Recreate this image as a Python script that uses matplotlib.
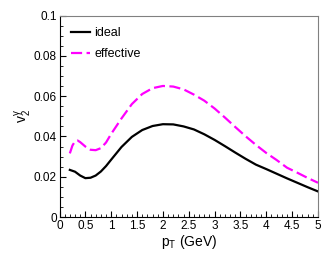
import matplotlib.pyplot as plt
from matplotlib.ticker import MultipleLocator

plt.rcParams['font.family'] = ['Liberation Sans', 'DejaVu Sans']

pt_ideal = [0.2, 0.3, 0.4, 0.5, 0.6, 0.7, 0.8, 0.9, 1.0, 1.2, 1.4, 1.6, 1.8, 2.0,
            2.2, 2.4, 2.6, 2.8, 3.0, 3.2, 3.4, 3.6, 3.8, 4.0, 4.2, 4.4, 4.6, 4.8, 5.0]
v2_ideal = [0.0234, 0.0225, 0.0206, 0.0193, 0.0195, 0.0206, 0.0226, 0.0253, 0.0285,
            0.0348, 0.0398, 0.0432, 0.0452, 0.0461, 0.0460, 0.0450, 0.0435, 0.0411,
            0.0383, 0.0352, 0.0320, 0.0289, 0.0260, 0.0238, 0.0215, 0.0192, 0.0170,
            0.0148, 0.0127]

pt_eff = [0.2, 0.25, 0.3, 0.35, 0.4, 0.5, 0.6, 0.7, 0.8, 0.9, 1.0, 1.2, 1.4, 1.6, 1.8,
          2.0, 2.2, 2.4, 2.6, 2.8, 3.0, 3.2, 3.4, 3.6, 3.8, 4.0, 4.2, 4.4, 4.6, 4.8, 5.0]
v2_eff = [0.0316, 0.0355, 0.0376, 0.0380, 0.0372, 0.0350, 0.0334, 0.0332, 0.0342,
          0.0370, 0.0413, 0.0490, 0.0561, 0.0611, 0.0640, 0.0651, 0.0648, 0.0634,
          0.0608, 0.0578, 0.0539, 0.0494, 0.0447, 0.0401, 0.0358, 0.0318, 0.0283,
          0.0245, 0.0220, 0.0194, 0.0170]

xticks = [0, 0.5, 1, 1.5, 2, 2.5, 3, 3.5, 4, 4.5, 5]
xtick_labels = ['0', '0.5', '1', '1.5', '2', '2.5', '3', '3.5', '4', '4.5', '5']
yticks = [0, 0.02, 0.04, 0.06, 0.08, 0.1]
ytick_labels = ['0', '0.02', '0.04', '0.06', '0.08', '0.1']

fig = plt.figure(figsize=(3.32, 2.59), dpi=100)
ax = fig.add_axes([59.5/332, 1 - 217/259, (318 - 59.5)/332, (217 - 15.7)/259])

ax.plot(pt_ideal, v2_ideal, color='black', lw=1.6, label='ideal')
ax.plot(pt_eff, v2_eff, color='magenta', lw=1.6, dashes=(5, 2), label='effective')

ax.set_xlim(0, 5)
ax.set_ylim(0, 0.1)
ax.set_xticks(xticks)
ax.set_xticklabels(xtick_labels)
ax.set_yticks(yticks)
ax.set_yticklabels(ytick_labels)
ax.xaxis.set_minor_locator(MultipleLocator(0.1))
ax.yaxis.set_minor_locator(MultipleLocator(0.005))
ax.tick_params(which='both', direction='in', top=False, right=False, labelsize=8.5, pad=2)
ax.tick_params(which='major', length=4, width=0.8)
ax.tick_params(which='minor', length=2, width=0.6)
for s in ['top', 'right']:
    ax.spines[s].set_color('gray')
    ax.spines[s].set_linewidth(0.8)
for s in ['left', 'bottom']:
    ax.spines[s].set_color('black')
    ax.spines[s].set_linewidth(0.8)

ax.set_xlabel('p$_\\mathregular{T}$ (GeV)', fontsize=10, labelpad=1)
ax.set_ylabel('v$_\\mathregular{2}^\\mathregular{\\gamma}$', fontsize=10, labelpad=0)

ax.legend(loc='upper left', frameon=False, fontsize=9, handlelength=1.5,
          handletextpad=0.4, borderaxespad=0.5, labelspacing=0.75)

fig.savefig('out.png', dpi=100)
